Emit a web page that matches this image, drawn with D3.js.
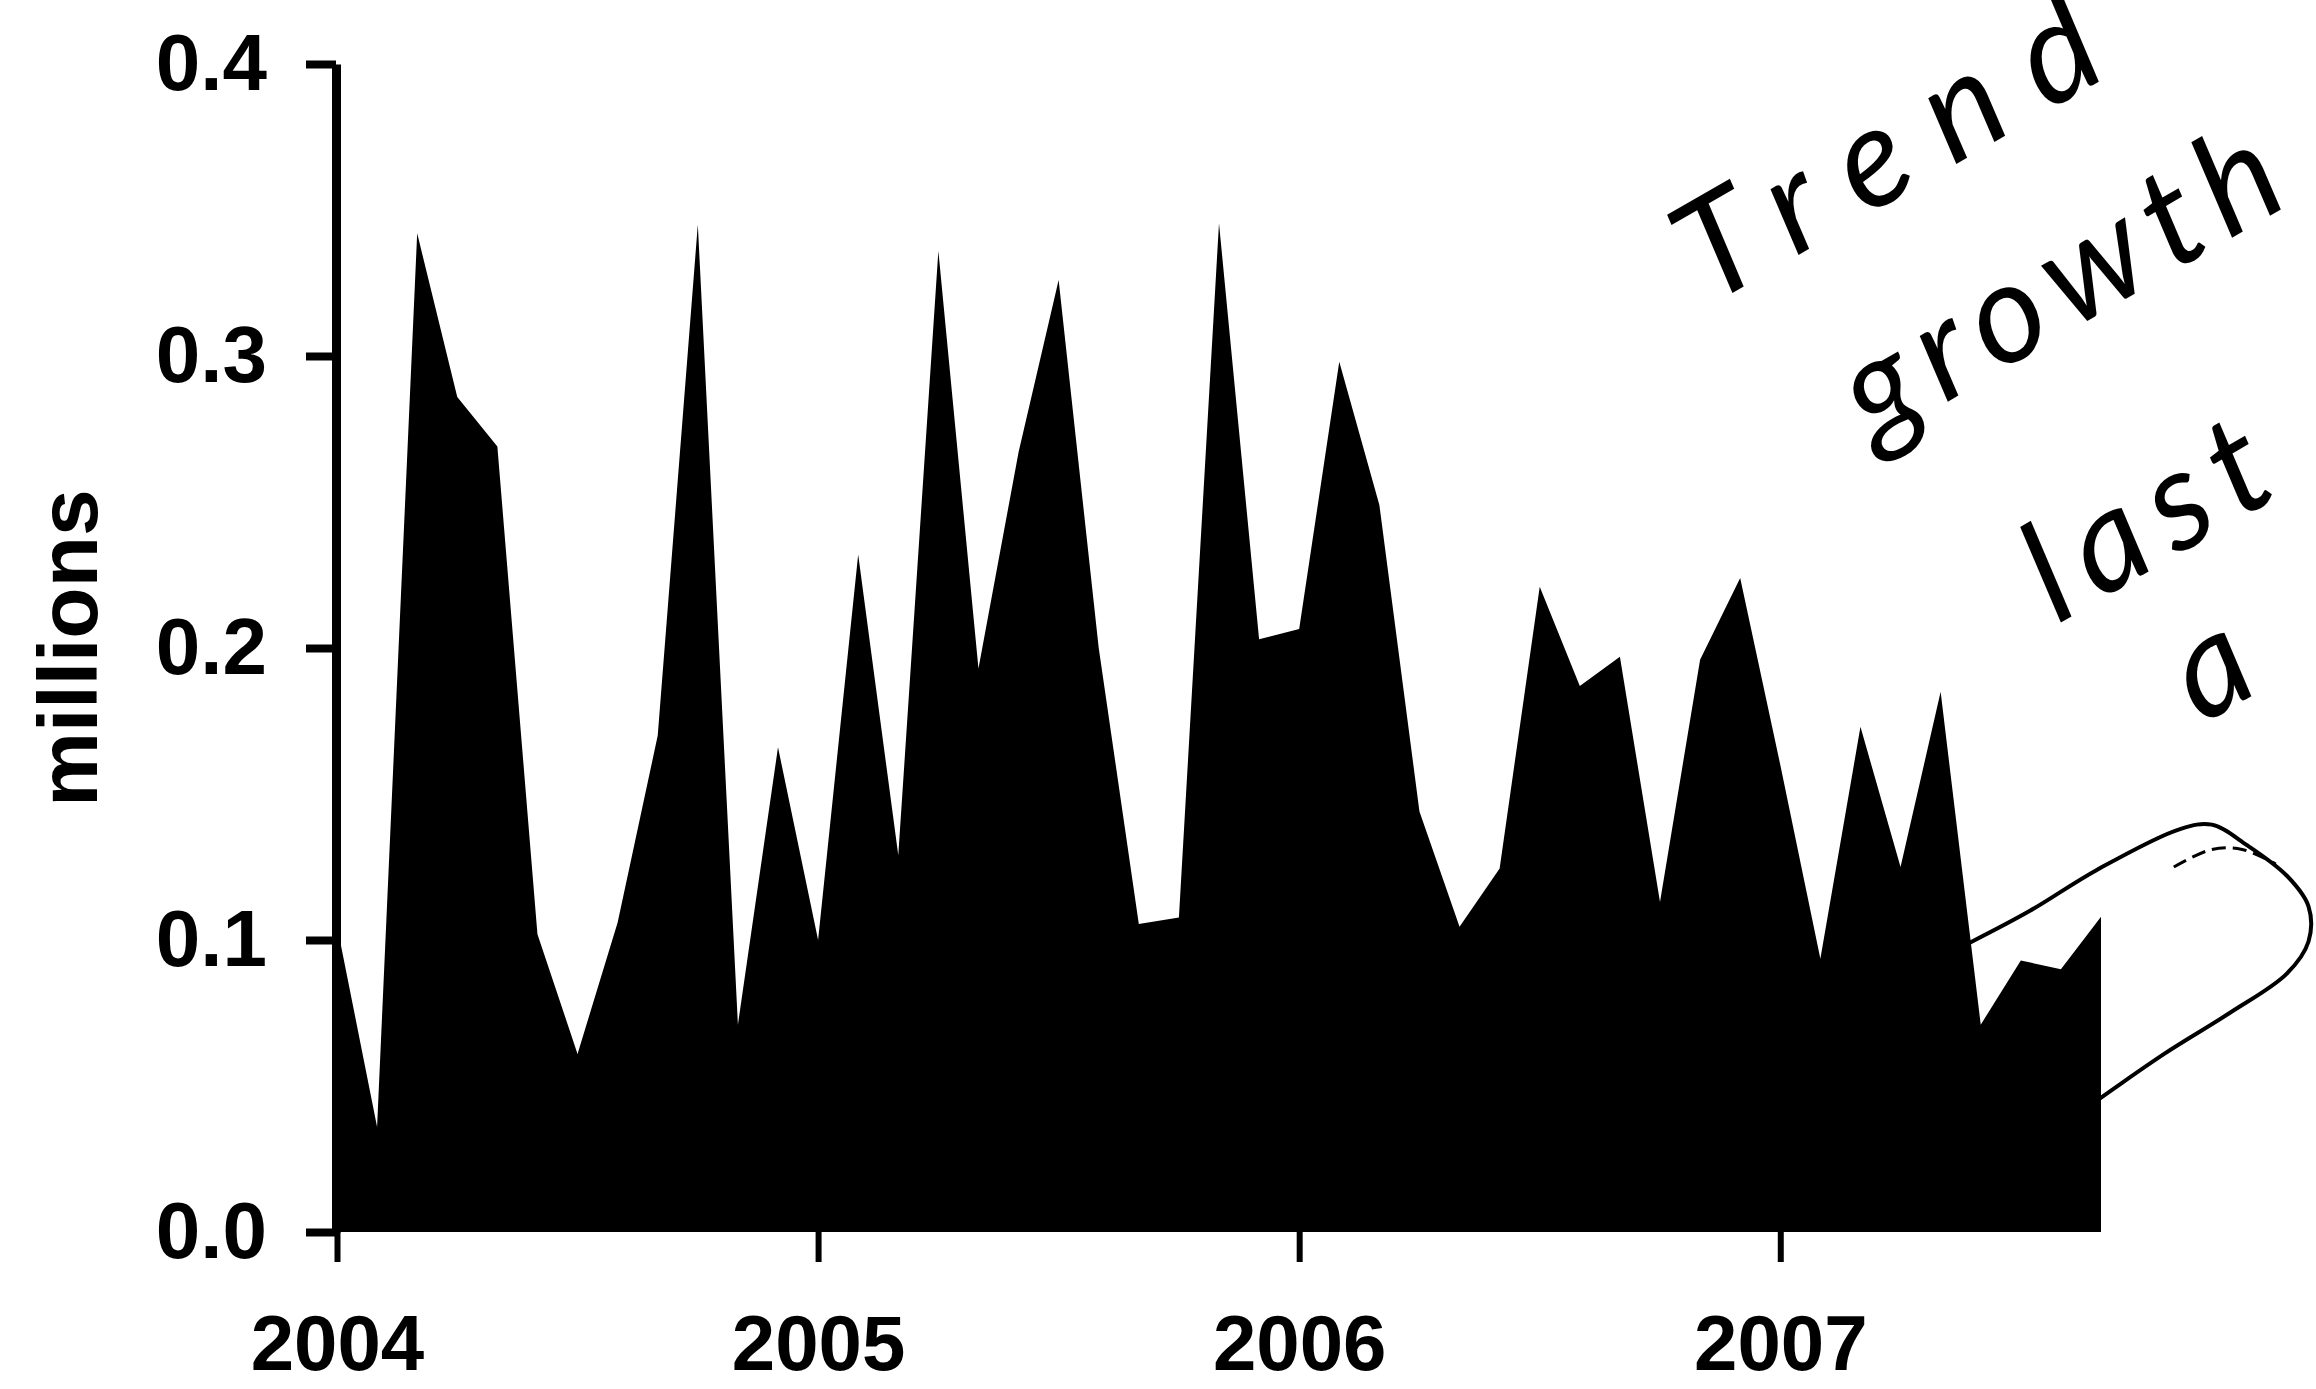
<!DOCTYPE html>
<html>
<head>
<meta charset="utf-8">
<script src="https://cdn.jsdelivr.net/npm/d3@7"></script>
<style>
  html, body { margin: 0; padding: 0; background: #fff; }
  svg { display: block; }
</style>
</head>
<body>
<svg id="chart"></svg>
<script>
// Monthly values (millions), Jan 2004 .. Sep 2007
const startYear = 2004;
const values = [
    0.105, 0.036, 0.342, 0.286, 0.269, 0.102, 0.061, 0.106, 0.170, 0.345, 0.071, 0.166,
    0.100, 0.232, 0.129, 0.336, 0.193, 0.267, 0.326, 0.200, 0.1055, 0.1077, 0.3455, 0.203,
    0.2065, 0.298, 0.249, 0.144, 0.1045, 0.1245, 0.221, 0.187, 0.197, 0.113, 0.196, 0.224,
    0.160, 0.0936, 0.173, 0.125, 0.185, 0.071, 0.093, 0.090, 0.108
];
const yearTicks = [2004, 2005, 2006, 2007];
const valueTicks = [0.0, 0.1, 0.2, 0.3, 0.4];
const yLabel = "millions";

// Handwritten note, anchored in data units [year, value]
const noteWords = ["Trend", "growth", "last", "a"];
const noteAnchors = [[2006.853, 0.317], [2007.192, 0.2695], [2007.575, 0.208], [2007.876, 0.1736]];
const noteLengths = [464, 485, 260, null];
// Circled loop around the last months, in data units
const loopPoints = [
    [2007.393, 0.099], [2007.519, 0.110], [2007.658, 0.124], [2007.831, 0.138],
    [2007.897, 0.1395], [2007.970, 0.1325], [2008.053, 0.122], [2008.098, 0.1115],
    [2008.098, 0.0995], [2008.053, 0.0885], [2007.934, 0.075], [2007.798, 0.061],
    [2007.658, 0.045]
];
const loopInner = [[2007.818, 0.125], [2007.897, 0.131], [2007.960, 0.131], [2008.030, 0.126]];

const width = 2316, height = 1389;
const svg = d3.select("#chart")
    .attr("width", width)
    .attr("height", height);

const data = values.map((v, i) => ({ t: startYear + i / 12, v: v }));

// Scales
const x = d3.scaleLinear()
    .domain([startYear, startYear + (values.length - 1) / 12])
    .range([337, 2101]);
const y = d3.scaleLinear()
    .domain([0, 0.4])
    .range([1232, 64]);

// Area
const area = d3.area()
    .x(d => x(d.t))
    .y0(y(0))
    .y1(d => y(d.v));

svg.append("path")
    .datum(data)
    .attr("d", area)
    .attr("fill", "#000");

// Y axis
const yAxis = d3.axisLeft(y)
    .tickValues(valueTicks)
    .tickFormat(d3.format(".1f"))
    .tickSize(30)
    .tickSizeOuter(0)
    .tickPadding(39);

const gy = svg.append("g")
    .attr("transform", "translate(336,0)")
    .call(yAxis);
gy.select(".domain").attr("stroke-width", 9).attr("stroke", "#000");
gy.selectAll(".tick line").attr("stroke-width", 8).attr("stroke", "#000");
gy.selectAll(".tick text")
    .attr("font-family", "'Liberation Sans', Arial, sans-serif")
    .attr("font-weight", "bold")
    .attr("font-size", 80)
    .attr("fill", "#000");

// X axis (ticks only, no domain line)
const xAxis = d3.axisBottom(x)
    .tickValues(yearTicks)
    .tickFormat(d3.format("d"))
    .tickSize(30)
    .tickSizeOuter(0);

const gx = svg.append("g")
    .attr("transform", `translate(0,${y(0)})`)
    .call(xAxis);
gx.select(".domain").remove();
gx.selectAll(".tick line").attr("stroke-width", 6).attr("stroke", "#000");
gx.selectAll(".tick text")
    .attr("y", 138)
    .attr("dy", null)
    .attr("font-family", "'Liberation Sans', Arial, sans-serif")
    .attr("font-weight", "bold")
    .attr("font-size", 78)
    .attr("fill", "#000");

// Y label
svg.append("text")
    .attr("transform", `translate(97,648) rotate(-90)`)
    .attr("text-anchor", "middle")
    .attr("font-family", "'Liberation Sans', Arial, sans-serif")
    .attr("font-weight", "bold")
    .attr("font-size", 84)
    .text(yLabel);

// Handwritten note
noteWords.forEach((w, i) => {
    const t = svg.append("text")
        .attr("transform", `translate(${x(noteAnchors[i][0])},${y(noteAnchors[i][1])}) rotate(-30)`)
        .attr("font-family", "Lato, 'Open Sans', sans-serif")
        .attr("font-style", "italic")
        .attr("font-weight", 400)
        .attr("font-size", 140)
        .attr("fill", "#000")
        .text(w);
    if (noteLengths[i]) t.attr("textLength", noteLengths[i]).attr("lengthAdjust", "spacing");
});

// Loop drawn around the last months
const loopLine = d3.line()
    .x(d => x(d[0]))
    .y(d => y(d[1]))
    .curve(d3.curveCatmullRom);

svg.append("path")
    .attr("d", loopLine(loopPoints))
    .attr("fill", "none")
    .attr("stroke", "#000")
    .attr("stroke-width", 4);

svg.append("path")
    .attr("d", loopLine(loopInner))
    .attr("fill", "none")
    .attr("stroke", "#000")
    .attr("stroke-width", 3)
    .attr("stroke-dasharray", "14 7");
</script>
</body>
</html>
